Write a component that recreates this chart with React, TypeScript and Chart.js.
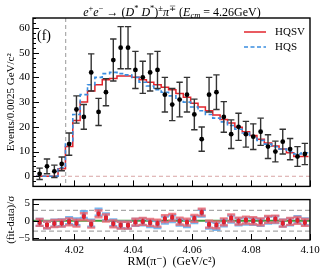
import React, { useEffect, useRef } from 'react';
import { Chart, registerables } from 'chart.js';
Chart.register(...registerables);

const SERIF = "'Liberation Serif', 'Times New Roman', 'DejaVu Serif', serif";

// ---- data ----
const BIN_CENTERS = [
  4.00825, 4.01075, 4.01325, 4.01575, 4.01825, 4.02075, 4.02325, 4.02575, 4.02825, 4.03075,
  4.03325, 4.03575, 4.03825, 4.04075, 4.04325, 4.04575, 4.04825, 4.05075, 4.05325, 4.05575,
  4.05825, 4.06075, 4.06325, 4.06575, 4.06825, 4.07075, 4.07325, 4.07575, 4.07825, 4.08075,
  4.08325, 4.08575, 4.08825, 4.09075, 4.09325, 4.09575, 4.09825,
];
const BIN_WIDTH = 0.0025;
const EVENTS = [
  1, 4, 2, 5, 13, 27, 24, 42, 26, 34,
  47, 52, 52, 43, 40, 42, 43, 33, 29, 31,
  33, 25, 15, 33, 34, 24, 17, 20, 17, 16,
  18, 12, 10, 14, 11, 8, 9,
];
const EVENT_ERR = [
  2.3, 3, 2.5, 2.8, 4.5, 5.5, 5, 7.5, 5.5, 5.5,
  8.5, 8.5, 8.5, 7.5, 6.5, 7.5, 7.5, 7, 6.5, 7,
  7, 6.2, 4.9, 7, 7, 6.2, 5.8, 5.5, 5.2, 5.2,
  5.5, 4.8, 4.2, 5, 4.3, 4, 4.3,
];
const FIT_HQSV = [
  0, 0, 0, 3, 12, 22.5, 30, 34.5, 37, 39,
  39.5, 40.5, 40.5, 40, 39, 38, 37, 36, 35, 33.5,
  32, 29.5, 28, 26.5, 24.8, 23, 21.5, 19.8, 18, 16.5,
  15, 13.5, 12.2, 11, 9.5, 8, 8,
];
const FIT_HQS = [
  0, 0, 0, 3.5, 13.5, 25, 33, 37, 40, 41.5,
  42, 41.5, 41, 40, 38, 36.5, 35, 34, 32.5, 31,
  30, 28, 26.5, 25, 23.5, 22, 20.5, 19, 17.5, 16,
  14.5, 13, 12, 11, 10, 9, 9.5,
];
const RES_HQSV = [
  -0.5, -1.2, -0.8, -0.7, -0.3, -0.7, 1.2, -1, 2, 0.8,
  -0.9, -1.3, -1.3, -0.4, -0.2, -0.5, -0.7, 0.6, 1, -0.1,
  -0.4, 0.7, 2.5, -1, -1.2, -0.3, 0.8, -0.1, 0.2, 0,
  -0.3, 0.4, 0.5, -0.7, -0.2, 0.1, -0.5,
];
const RES_HQS = [
  -0.5, -1.2, -0.7, -0.6, 0, -0.3, 1.8, -0.7, 2.5, 1.1,
  -0.6, -1.2, -1.3, -0.5, -0.3, -0.8, -1.1, 0.2, 0.6, -0.4,
  -0.8, 0.3, 2.2, -1.3, -1.6, -0.6, 0.5, -0.3, -0.1, -0.2,
  -0.5, 0.2, 0.3, -0.7, -0.3, 0.3, -0.3,
];
const RES_ERR = 1;
const X_TICKS = [4.02, 4.04, 4.06, 4.08, 4.1];
const Y_TICKS_TOP = [0, 10, 20, 30, 40, 50, 60];
const Y_TICKS_RES = [-5, 0, 5];
const THRESHOLD = 4.0171;
const RES_BAND = 3;

const X_MIN = 4.006;
const X_MAX = 4.1;

const RED = '#e2242c';
const BLUE = '#3a8de0';

function stepPoints(vals: number[]) {
  const pts = vals.map((v, i) => ({ x: BIN_CENTERS[i] - BIN_WIDTH / 2, y: v }));
  const last = vals.length - 1;
  pts.push({ x: BIN_CENTERS[last] + BIN_WIDTH / 2, y: vals[last] });
  return pts;
}

function range(a: number, b: number, step: number) {
  const out: number[] = [];
  for (let v = a; v <= b + step * 1e-6; v += step) out.push(Math.round(v * 1e6) / 1e6);
  return out;
}

const errorBarPlugin = {
  id: 'errbars',
  beforeDatasetDraw(chart: any, args: any) {
    const ds = chart.data.datasets[args.index];
    if (ds.errors === undefined) return;
    const { ctx } = chart;
    const xs = chart.scales.x;
    const ys = chart.scales.y;
    ctx.save();
    ctx.beginPath();
    ctx.rect(chart.chartArea.left, chart.chartArea.top, chart.chartArea.right - chart.chartArea.left, chart.chartArea.bottom - chart.chartArea.top);
    ctx.clip();
    ds.data.forEach((p: any, i: number) => {
      const e = Array.isArray(ds.errors) ? ds.errors[i] : ds.errors;
      const px = xs.getPixelForValue(p.x);
      const yt = ys.getPixelForValue(p.y + e);
      const yb = ys.getPixelForValue(p.y - e);
      ctx.strokeStyle = ds.barColor;
      ctx.lineWidth = ds.barWidth;
      ctx.beginPath();
      ctx.moveTo(px, yt);
      ctx.lineTo(px, yb);
      ctx.stroke();
      ctx.strokeStyle = ds.capColor;
      ctx.lineWidth = ds.capWidth;
      ctx.beginPath();
      ctx.moveTo(px - ds.capHalf, yt);
      ctx.lineTo(px + ds.capHalf, yt);
      ctx.moveTo(px - ds.capHalf, yb);
      ctx.lineTo(px + ds.capHalf, yb);
      ctx.stroke();
    });
    ctx.restore();
  },
};

function drawFrameAndTicks(chart: any, yMajor: number[], yMinor: number[]) {
  const { ctx, chartArea: a } = chart;
  const xs = chart.scales.x;
  const ys = chart.scales.y;
  ctx.save();
  ctx.strokeStyle = '#000';
  ctx.lineWidth = 1;
  ctx.beginPath();
  const xMinor = range(4.01, 4.1, 0.005);
  xMinor.forEach((v) => {
    const px = Math.round(xs.getPixelForValue(v)) + 0.5;
    const major = X_TICKS.some((t) => Math.abs(t - v) < 1e-6);
    const len = major ? 6 : 3;
    ctx.moveTo(px, a.bottom);
    ctx.lineTo(px, a.bottom - len);
  });
  yMinor.forEach((v) => {
    const py = Math.round(ys.getPixelForValue(v)) + 0.5;
    const major = yMajor.some((t) => Math.abs(t - v) < 1e-6);
    const len = major ? 6 : 3;
    ctx.moveTo(a.left, py);
    ctx.lineTo(a.left + len, py);
  });
  ctx.stroke();
  ctx.lineWidth = 1.4;
  ctx.strokeRect(a.left, a.top, a.right - a.left, a.bottom - a.top);
  ctx.restore();
}

const topDecor = {
  id: 'topDecor',
  beforeDatasetsDraw(chart: any) {
    const { ctx, chartArea: a } = chart;
    const xs = chart.scales.x;
    const ys = chart.scales.y;
    ctx.save();
    ctx.lineWidth = 1;
    ctx.setLineDash([4, 3]);
    ctx.strokeStyle = '#d8a4a4';
    const y0 = ys.getPixelForValue(0);
    ctx.beginPath();
    ctx.moveTo(a.left, y0);
    ctx.lineTo(a.right, y0);
    ctx.stroke();
    ctx.strokeStyle = '#999';
    const xt = xs.getPixelForValue(THRESHOLD);
    ctx.beginPath();
    ctx.moveTo(xt, a.top);
    ctx.lineTo(xt, a.bottom);
    ctx.stroke();
    ctx.restore();
  },
  afterDatasetsDraw(chart: any) {
    const { ctx, chartArea: a } = chart;
    drawFrameAndTicks(chart, Y_TICKS_TOP, range(-4, 64, 2));
    ctx.save();
    // (f)
    ctx.fillStyle = '#000';
    ctx.font = `14px ${SERIF}`;
    ctx.textBaseline = 'middle';
    ctx.textAlign = 'left';
    ctx.fillText('(f)', a.left + 4, a.top + 18);
    // legend
    const lx0 = a.right - 66;
    const lx1 = a.right - 44;
    ctx.lineWidth = 1.5;
    ctx.strokeStyle = RED;
    ctx.beginPath();
    ctx.moveTo(lx0, a.top + 14);
    ctx.lineTo(lx1, a.top + 14);
    ctx.stroke();
    ctx.strokeStyle = BLUE;
    ctx.setLineDash([4, 2.5]);
    ctx.beginPath();
    ctx.moveTo(lx0, a.top + 29);
    ctx.lineTo(lx1, a.top + 29);
    ctx.stroke();
    ctx.setLineDash([]);
    ctx.font = `11px ${SERIF}`;
    ctx.fillText('HQSV', a.right - 35, a.top + 14.5);
    ctx.fillText('HQS', a.right - 35, a.top + 29.5);
    // title
    const segs = [
      { t: 'e', i: true }, { t: '+', s: 'sup' }, { t: 'e', i: true }, { t: '\u2212', s: 'sup' },
      { t: ' \u2192 (' }, { t: 'D', i: true }, { t: '*', s: 'sup' }, { t: ' D', i: true }, { t: '*', s: 'sup' },
      { t: ')' }, { t: '\u00b1', s: 'sup' }, { t: '\u03c0', i: true }, { t: '\u2213', s: 'sup' },
      { t: ' (' }, { t: 'E', i: true }, { t: 'cm', i: true, s: 'sub' }, { t: ' = 4.26GeV)' },
    ] as { t: string; i?: boolean; s?: string }[];
    const fontFor = (sg: any) => `${sg.i ? 'italic ' : ''}${sg.s ? 8.5 : 12}px ${SERIF}`;
    let total = 0;
    segs.forEach((sg) => {
      ctx.font = fontFor(sg);
      total += ctx.measureText(sg.t).width;
    });
    let x = 172 - total / 2;
    const base = 15.5;
    ctx.textBaseline = 'alphabetic';
    segs.forEach((sg) => {
      ctx.font = fontFor(sg);
      const dy = sg.s === 'sup' ? -4.5 : sg.s === 'sub' ? 2.5 : 0;
      ctx.fillText(sg.t, x, base + dy);
      x += ctx.measureText(sg.t).width;
    });
    ctx.restore();
  },
};

const resDecor = {
  id: 'resDecor',
  beforeDatasetsDraw(chart: any) {
    const { ctx, chartArea: a } = chart;
    const ys = chart.scales.y;
    ctx.save();
    ctx.strokeStyle = '#a8a8a8';
    ctx.lineWidth = 1.3;
    ctx.setLineDash([5, 3]);
    [RES_BAND, -RES_BAND].forEach((v) => {
      const py = ys.getPixelForValue(v);
      ctx.beginPath();
      ctx.moveTo(a.left, py);
      ctx.lineTo(a.right, py);
      ctx.stroke();
    });
    ctx.setLineDash([]);
    ctx.strokeStyle = '#3c9e3c';
    ctx.lineWidth = 2.2;
    const p0 = ys.getPixelForValue(0);
    ctx.beginPath();
    ctx.moveTo(a.left, p0);
    ctx.lineTo(a.right, p0);
    ctx.stroke();
    ctx.restore();
  },
  afterDatasetsDraw(chart: any) {
    drawFrameAndTicks(chart, Y_TICKS_RES, Y_TICKS_RES);
  },
};

const tickFont = { family: SERIF, size: 11 };

export default function App() {
  const topRef = useRef<HTMLCanvasElement>(null);
  const botRef = useRef<HTMLCanvasElement>(null);

  useEffect(() => {
    const top = new Chart(topRef.current as HTMLCanvasElement, {
      type: 'scatter',
      data: {
        datasets: [
          {
            label: 'data',
            data: BIN_CENTERS.map((x, i) => ({ x, y: EVENTS[i] })),
            pointRadius: 2.4,
            pointBackgroundColor: '#000',
            pointBorderColor: '#000',
            pointBorderWidth: 0,
            showLine: false,
            order: 0,
            errors: EVENT_ERR,
            barColor: '#333',
            barWidth: 1.4,
            capColor: '#333',
            capWidth: 1.4,
            capHalf: 3.2,
          } as any,
          {
            label: 'HQS',
            data: stepPoints(FIT_HQS),
            showLine: true,
            stepped: true,
            borderColor: BLUE,
            borderWidth: 1.6,
            borderDash: [4, 2.5],
            pointRadius: 0,
            fill: false,
            order: 1,
          } as any,
          {
            label: 'HQSV',
            data: stepPoints(FIT_HQSV),
            showLine: true,
            stepped: true,
            borderColor: RED,
            borderWidth: 1.5,
            pointRadius: 0,
            fill: false,
            order: 2,
          } as any,
        ],
      },
      options: {
        animation: false,
        responsive: false,
        maintainAspectRatio: false,
        events: [],
        layout: { padding: { left: 0, right: 14, top: 18, bottom: 1 } },
        plugins: { legend: { display: false }, tooltip: { enabled: false }, title: { display: false } },
        scales: {
          x: { type: 'linear', min: X_MIN, max: X_MAX, display: false },
          y: {
            type: 'linear',
            min: -4.1,
            max: 64,
            afterFit: (s: any) => { s.width = 33; },
            afterBuildTicks: (s: any) => { s.ticks = Y_TICKS_TOP.map((v) => ({ value: v })); },
            grid: { display: false, drawTicks: false },
            border: { display: false },
            ticks: { font: tickFont, color: '#000', padding: 3 },
            title: {
              display: true,
              text: 'Events/0.0025 GeV/c\u00b2',
              font: { family: SERIF, size: 11 },
              color: '#000',
              padding: { top: 4.5, bottom: 0 },
            },
          },
        },
      } as any,
      plugins: [errorBarPlugin, topDecor],
    });

    const bot = new Chart(botRef.current as HTMLCanvasElement, {
      type: 'scatter',
      data: {
        datasets: [
          {
            label: 'HQSV',
            data: BIN_CENTERS.map((x, i) => ({ x, y: RES_HQSV[i] })),
            pointStyle: 'rect',
            pointRadius: 2.8,
            pointBackgroundColor: '#e3202c',
            pointBorderWidth: 0,
            order: 0,
            errors: RES_ERR,
            barColor: '#c0101e',
            barWidth: 1.5,
            capColor: 'rgba(235,100,110,0.8)',
            capWidth: 2.4,
            capHalf: 4,
          } as any,
          {
            label: 'HQS',
            data: BIN_CENTERS.map((x, i) => ({ x, y: RES_HQS[i] })),
            pointStyle: 'rect',
            pointRadius: 2.8,
            pointBackgroundColor: '#2f7fd8',
            pointBorderWidth: 0,
            order: 1,
            errors: RES_ERR,
            barColor: 'rgba(60,140,225,0.9)',
            barWidth: 1.6,
            capColor: 'rgba(100,170,235,0.85)',
            capWidth: 2.4,
            capHalf: 4,
          } as any,
        ],
      },
      options: {
        animation: false,
        responsive: false,
        maintainAspectRatio: false,
        events: [],
        layout: { padding: { left: 0, right: 14, top: 6, bottom: 0 } },
        plugins: { legend: { display: false }, tooltip: { enabled: false }, title: { display: false } },
        scales: {
          x: {
            type: 'linear',
            min: X_MIN,
            max: X_MAX,
            afterFit: (s: any) => { s.height = 34; },
            afterBuildTicks: (s: any) => { s.ticks = X_TICKS.map((v) => ({ value: v })); },
            grid: { display: false, drawTicks: false },
            border: { display: false },
            ticks: { font: tickFont, color: '#000', padding: 4, maxRotation: 0, callback: (v: any) => Number(v).toFixed(2) },
            title: {
              display: true,
              text: 'RM(\u03c0\u207b)  (GeV/c\u00b2)',
              font: { family: SERIF, size: 12 },
              color: '#000',
              padding: { top: 0, bottom: 5 },
            },
          },
          y: {
            type: 'linear',
            min: -5.6,
            max: 6.15,
            afterFit: (s: any) => { s.width = 33; },
            afterBuildTicks: (s: any) => { s.ticks = Y_TICKS_RES.map((v) => ({ value: v })); },
            grid: { display: false, drawTicks: false },
            border: { display: false },
            ticks: { font: tickFont, color: '#000', padding: 3, callback: (v: any) => (v < 0 ? '\u2212' + Math.abs(v) : String(v)) },
            title: {
              display: true,
              text: '(fit-data)/\u03c3',
              font: { family: SERIF, size: 11 },
              color: '#000',
              padding: { top: 4.5, bottom: 0 },
            },
          },
        },
      } as any,
      plugins: [errorBarPlugin, resDecor],
    });

    return () => {
      top.destroy();
      bot.destroy();
    };
  }, []);

  return (
    <div style={{ position: 'fixed', left: 0, top: 0, width: 324, height: 274, background: '#fff' }}>
      <canvas ref={topRef} width={324} height={196} style={{ position: 'absolute', left: 0, top: 0, width: 324, height: 196 }} />
      <canvas ref={botRef} width={324} height={84} style={{ position: 'absolute', left: 0, top: 190, width: 324, height: 84 }} />
    </div>
  );
}
